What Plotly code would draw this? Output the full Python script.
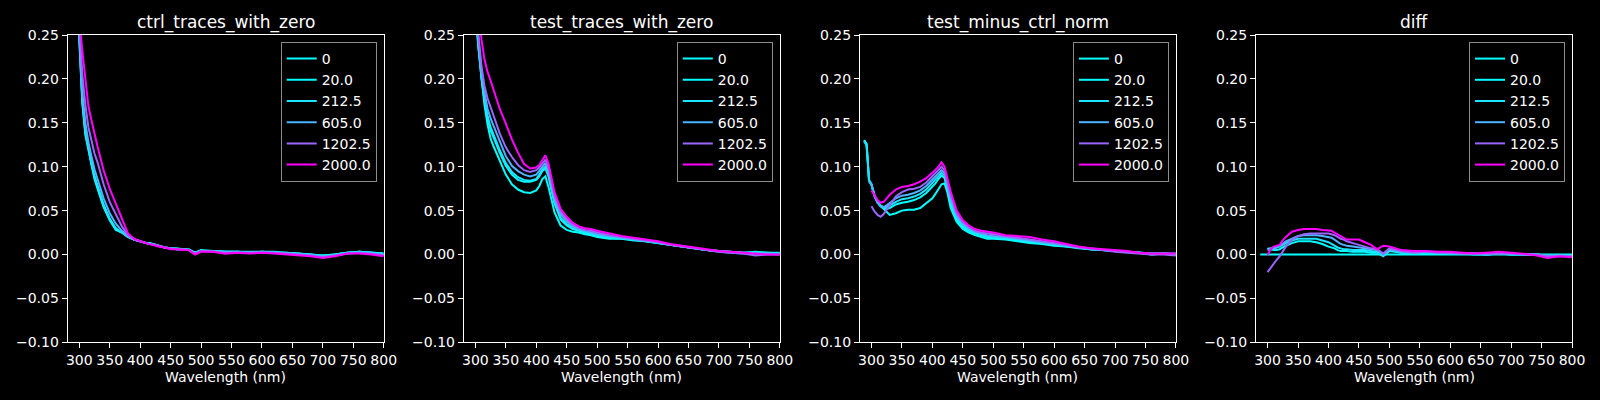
import plotly.graph_objects as go

# wavelength grid (nm) shared by every trace
wl = [288, 292, 294, 296, 300, 305, 310, 315, 320, 325, 330, 340, 350, 360, 370, 380, 390, 400,
      405, 410, 415, 420, 425, 430, 440, 450, 460, 470, 480, 490, 500, 520, 540, 560, 580, 600,
      620, 640, 660, 680, 700, 720, 740, 760, 780, 800]

labels = ['0', '20.0', '212.5', '605.0', '1202.5', '2000.0']
concs = [0, 20.0, 212.5, 605.0, 1202.5, 2000.0]

# ctrl_traces_with_zero
ctrl_0 = [0.42, 0.36, 0.33, 0.30, 0.245, 0.172, 0.136, 0.118, 0.101, 0.086, 0.075, 0.054, 0.039, 0.028, 0.025, 0.020, 0.017, 0.015,
          0.014, 0.013, 0.013, 0.012, 0.011, 0.010, 0.008, 0.007, 0.007, 0.006, 0.006, 0.002, 0.005, 0.004, 0.003, 0.003, 0.003, 0.003,
          0.003, 0.002, 0.001, 0.000, -0.001, 0.000, 0.002, 0.003, 0.002, 0.001]
ctrl_20 = [0.42, 0.36, 0.33, 0.30, 0.247, 0.175, 0.139, 0.120, 0.103, 0.088, 0.077, 0.055, 0.040, 0.029, 0.025, 0.020, 0.017, 0.015,
           0.014, 0.013, 0.013, 0.012, 0.011, 0.010, 0.008, 0.007, 0.006, 0.006, 0.005, 0.002, 0.004, 0.004, 0.003, 0.003, 0.002, 0.003,
           0.002, 0.002, 0.001, 0.000, -0.001, 0.000, 0.002, 0.003, 0.002, 0.001]
ctrl_212 = [0.43, 0.37, 0.34, 0.31, 0.25, 0.178, 0.142, 0.122, 0.105, 0.090, 0.079, 0.057, 0.041, 0.030, 0.025, 0.020, 0.017, 0.015,
            0.014, 0.013, 0.012, 0.012, 0.011, 0.010, 0.008, 0.007, 0.006, 0.006, 0.005, 0.002, 0.004, 0.004, 0.003, 0.003, 0.002, 0.003,
            0.002, 0.001, 0.001, 0.000, -0.002, 0.000, 0.002, 0.003, 0.002, 0.000]
ctrl_605 = [0.43, 0.37, 0.34, 0.31, 0.255, 0.185, 0.150, 0.128, 0.112, 0.097, 0.086, 0.064, 0.047, 0.035, 0.027, 0.021, 0.017, 0.015,
            0.014, 0.013, 0.012, 0.012, 0.011, 0.010, 0.008, 0.007, 0.006, 0.006, 0.005, 0.001, 0.004, 0.004, 0.002, 0.003, 0.002, 0.003,
            0.002, 0.001, 0.000, -0.001, -0.002, -0.001, 0.001, 0.002, 0.001, 0.000]
ctrl_1202 = [0.44, 0.38, 0.35, 0.32, 0.262, 0.205, 0.170, 0.145, 0.130, 0.115, 0.105, 0.080, 0.060, 0.045, 0.032, 0.022, 0.017, 0.015,
             0.014, 0.013, 0.012, 0.011, 0.011, 0.010, 0.008, 0.007, 0.006, 0.006, 0.005, 0.001, 0.004, 0.003, 0.002, 0.002, 0.002, 0.002,
             0.002, 0.001, 0.000, -0.001, -0.003, -0.001, 0.001, 0.002, 0.001, -0.001]
ctrl_2000 = [0.46, 0.40, 0.37, 0.34, 0.27, 0.232, 0.201, 0.169, 0.153, 0.137, 0.123, 0.096, 0.075, 0.058, 0.040, 0.024, 0.018, 0.015,
             0.014, 0.013, 0.012, 0.011, 0.010, 0.009, 0.008, 0.006, 0.006, 0.005, 0.005, 0.000, 0.003, 0.003, 0.001, 0.002, 0.001, 0.002,
             0.001, 0.000, -0.001, -0.002, -0.004, -0.002, 0.001, 0.001, 0.000, -0.002]

# test_traces_with_zero
test_0 = [0.44, 0.38, 0.35, 0.32, 0.275, 0.235, 0.198, 0.170, 0.148, 0.132, 0.123, 0.106, 0.091, 0.080, 0.074, 0.071, 0.070, 0.073,
          0.078, 0.086, 0.089, 0.077, 0.061, 0.048, 0.033, 0.028, 0.026, 0.025, 0.023, 0.022, 0.020, 0.018, 0.018, 0.016, 0.015, 0.013,
          0.011, 0.009, 0.007, 0.005, 0.004, 0.003, 0.002, 0.003, 0.002, 0.002]
test_20 = [0.45, 0.39, 0.36, 0.33, 0.283, 0.238, 0.200, 0.175, 0.155, 0.142, 0.133, 0.116, 0.101, 0.091, 0.085, 0.083, 0.083, 0.085,
           0.089, 0.095, 0.098, 0.089, 0.073, 0.058, 0.040, 0.033, 0.029, 0.027, 0.025, 0.023, 0.021, 0.019, 0.018, 0.017, 0.015, 0.013,
           0.011, 0.009, 0.007, 0.005, 0.004, 0.003, 0.002, 0.002, 0.002, 0.001]
test_212 = [0.45, 0.39, 0.36, 0.33, 0.285, 0.240, 0.203, 0.178, 0.158, 0.145, 0.136, 0.119, 0.104, 0.094, 0.088, 0.085, 0.084, 0.086,
            0.091, 0.097, 0.100, 0.091, 0.075, 0.060, 0.042, 0.035, 0.030, 0.028, 0.026, 0.024, 0.022, 0.020, 0.019, 0.017, 0.015, 0.013,
            0.011, 0.009, 0.007, 0.005, 0.004, 0.003, 0.002, 0.002, 0.001, 0.001]
test_605 = [0.46, 0.40, 0.37, 0.34, 0.29, 0.245, 0.208, 0.185, 0.166, 0.155, 0.146, 0.128, 0.112, 0.101, 0.095, 0.091, 0.089, 0.091,
            0.095, 0.100, 0.104, 0.095, 0.079, 0.063, 0.046, 0.038, 0.032, 0.029, 0.027, 0.025, 0.023, 0.021, 0.019, 0.017, 0.016, 0.014,
            0.011, 0.009, 0.007, 0.005, 0.003, 0.002, 0.001, 0.001, 0.001, 0.000]
test_1202 = [0.47, 0.41, 0.38, 0.35, 0.30, 0.250, 0.215, 0.192, 0.178, 0.168, 0.158, 0.138, 0.122, 0.111, 0.102, 0.096, 0.094, 0.096,
             0.099, 0.104, 0.108, 0.099, 0.083, 0.067, 0.049, 0.040, 0.034, 0.030, 0.028, 0.027, 0.025, 0.022, 0.020, 0.018, 0.016, 0.014,
             0.011, 0.009, 0.007, 0.005, 0.003, 0.002, 0.001, -0.001, 0.000, 0.000]
test_2000 = [0.50, 0.44, 0.41, 0.38, 0.33, 0.280, 0.245, 0.222, 0.208, 0.198, 0.188, 0.166, 0.149, 0.131, 0.116, 0.103, 0.098, 0.099,
             0.102, 0.108, 0.113, 0.104, 0.087, 0.071, 0.052, 0.043, 0.036, 0.032, 0.030, 0.029, 0.027, 0.024, 0.021, 0.019, 0.017, 0.015,
             0.012, 0.010, 0.008, 0.006, 0.004, 0.003, 0.002, 0.001, 0.000, 0.000]

# test_minus_ctrl_norm
norm_0 = [0.130, 0.125, 0.105, 0.084, 0.079, 0.068, 0.060, 0.055, 0.052, 0.048, 0.045, 0.047, 0.050, 0.051, 0.051, 0.053, 0.058, 0.064,
          0.069, 0.074, 0.080, 0.081, 0.070, 0.053, 0.037, 0.029, 0.025, 0.022, 0.020, 0.018, 0.018, 0.017, 0.015, 0.013, 0.012, 0.010,
          0.009, 0.007, 0.006, 0.005, 0.004, 0.003, 0.002, 0.000, 0.001, 0.000]
norm_20 = [0.130, 0.126, 0.106, 0.085, 0.080, 0.067, 0.059, 0.055, 0.053, 0.052, 0.053, 0.057, 0.059, 0.060, 0.062, 0.065, 0.070, 0.077,
           0.081, 0.086, 0.090, 0.087, 0.073, 0.058, 0.040, 0.031, 0.027, 0.024, 0.022, 0.020, 0.019, 0.018, 0.016, 0.014, 0.013, 0.011,
           0.009, 0.008, 0.006, 0.005, 0.004, 0.003, 0.002, 0.001, 0.001, 0.000]
norm_212 = [0.129, 0.124, 0.104, 0.084, 0.080, 0.067, 0.060, 0.056, 0.054, 0.054, 0.056, 0.060, 0.063, 0.064, 0.066, 0.069, 0.074, 0.081,
            0.085, 0.089, 0.093, 0.090, 0.076, 0.061, 0.042, 0.033, 0.028, 0.025, 0.023, 0.021, 0.020, 0.019, 0.017, 0.015, 0.013, 0.012,
            0.010, 0.008, 0.006, 0.005, 0.004, 0.003, 0.002, 0.001, 0.001, 0.001]
norm_605 = [None, None, None, 0.083, 0.080, 0.066, 0.059, 0.055, 0.054, 0.056, 0.059, 0.064, 0.067, 0.068, 0.070, 0.073, 0.078, 0.085,
            0.088, 0.092, 0.096, 0.093, 0.079, 0.064, 0.044, 0.035, 0.030, 0.026, 0.024, 0.022, 0.021, 0.020, 0.018, 0.016, 0.014, 0.012,
            0.010, 0.008, 0.006, 0.005, 0.004, 0.003, 0.002, 0.000, 0.001, 0.000]
norm_1202 = [None, None, None, None, 0.055, 0.049, 0.045, 0.043, 0.046, 0.051, 0.057, 0.066, 0.071, 0.074, 0.075, 0.077, 0.082, 0.089,
             0.092, 0.096, 0.100, 0.096, 0.082, 0.067, 0.047, 0.037, 0.031, 0.027, 0.025, 0.024, 0.023, 0.021, 0.019, 0.017, 0.015, 0.013,
             0.011, 0.008, 0.007, 0.005, 0.003, 0.002, 0.001, 0.000, 0.000, -0.001]
norm_2000 = [None, None, None, None, 0.073, 0.067, 0.062, 0.059, 0.060, 0.064, 0.068, 0.074, 0.077, 0.078, 0.080, 0.083, 0.087, 0.093,
             0.096, 0.100, 0.105, 0.100, 0.086, 0.072, 0.050, 0.039, 0.033, 0.029, 0.027, 0.026, 0.025, 0.022, 0.021, 0.020, 0.017, 0.015,
             0.012, 0.009, 0.007, 0.006, 0.005, 0.004, 0.002, 0.001, 0.001, 0.001]

# diff
diff_0 = [0.000, 0.000, 0.000, 0.000, 0.000, 0.000, 0.000, 0.000, 0.000, 0.000, 0.000, 0.000, 0.000, 0.000, 0.000, 0.000,
          0.000, 0.000, 0.000, 0.000, 0.000, 0.000, 0.000, 0.000, 0.000, 0.000, 0.000, 0.000, 0.000, 0.000, 0.000, 0.000, 0.000,
          0.000, 0.000, 0.000, 0.000, 0.000, 0.000, 0.000, 0.000, 0.000, 0.000, 0.000, 0.000, 0.000]
diff_20 = [None, None, None, None, 0.007, 0.006, 0.005, 0.005, 0.006, 0.008, 0.010, 0.013, 0.015, 0.015, 0.015, 0.014, 0.012, 0.009,
           0.008, 0.007, 0.005, 0.004, 0.004, 0.004, 0.003, 0.003, 0.003, 0.002, 0.002, -0.002, 0.004, 0.002, 0.001, 0.002, 0.002, 0.001,
           0.001, 0.000, 0.000, 0.001, 0.000, 0.000, 0.000, -0.001, -0.001, -0.001]
diff_212 = [None, None, None, None, 0.006, 0.007, 0.007, 0.008, 0.009, 0.011, 0.013, 0.016, 0.018, 0.018, 0.018, 0.018, 0.016, 0.014,
            0.012, 0.010, 0.008, 0.007, 0.006, 0.006, 0.005, 0.005, 0.005, 0.004, 0.003, -0.001, 0.005, 0.002, 0.002, 0.002, 0.002, 0.001,
            0.001, 0.001, 0.000, 0.001, 0.000, 0.000, 0.000, -0.001, -0.001, -0.001]
diff_605 = [None, None, None, None, 0.005, 0.006, 0.007, 0.008, 0.010, 0.012, 0.015, 0.018, 0.021, 0.022, 0.022, 0.022, 0.021, 0.020,
            0.019, 0.017, 0.014, 0.012, 0.011, 0.010, 0.009, 0.008, 0.007, 0.006, 0.005, 0.000, 0.006, 0.003, 0.002, 0.003, 0.002, 0.001,
            0.001, 0.001, 0.000, 0.001, 0.001, 0.000, 0.000, -0.001, -0.001, -0.002]
diff_1202 = [None, None, None, None, -0.020, -0.015, -0.011, -0.006, -0.002, 0.004, 0.009, 0.017, 0.021, 0.023, 0.024, 0.024, 0.024, 0.024,
             0.023, 0.022, 0.020, 0.018, 0.017, 0.015, 0.013, 0.011, 0.009, 0.007, 0.006, 0.001, 0.007, 0.004, 0.002, 0.003, 0.002, 0.002,
             0.001, 0.001, 0.001, 0.001, 0.001, 0.000, 0.000, -0.002, -0.002, -0.002]
diff_2000 = [None, None, None, None, -0.001, 0.006, 0.009, 0.010, 0.011, 0.016, 0.020, 0.026, 0.028, 0.029, 0.029, 0.029, 0.028, 0.027,
             0.027, 0.025, 0.023, 0.021, 0.019, 0.017, 0.017, 0.017, 0.014, 0.011, 0.006, 0.010, 0.009, 0.005, 0.004, 0.004, 0.003, 0.003,
             0.002, 0.001, 0.002, 0.003, 0.002, 0.001, -0.001, -0.004, -0.002, -0.003]

panels = [
    ('ctrl_traces_with_zero', [ctrl_0, ctrl_20, ctrl_212, ctrl_605, ctrl_1202, ctrl_2000]),
    ('test_traces_with_zero', [test_0, test_20, test_212, test_605, test_1202, test_2000]),
    ('test_minus_ctrl_norm', [norm_0, norm_20, norm_212, norm_605, norm_1202, norm_2000]),
    ('diff', [diff_0, diff_20, diff_212, diff_605, diff_1202, diff_2000]),
]


def cool(c):
    # matplotlib 'cool' colormap, normalised to the max concentration
    f = c / max(concs)
    return 'rgb(%d,%d,255)' % (round(255 * f), round(255 * (1 - f)))


W, H = 1600, 400
lefts = [67.7, 463.8, 859.9, 1256.0]
pw = 316.0
top_px, bot_px = 35.0, 342.3
font = 'DejaVu Sans'

fig = go.Figure()
layout = dict(
    width=W, height=H,
    margin=dict(l=0, r=0, t=0, b=0, autoexpand=False),
    paper_bgcolor='black', plot_bgcolor='black',
    font=dict(family=font, size=14, color='white'),
    annotations=[],
)

for i, (title, series) in enumerate(panels):
    n = '' if i == 0 else str(i + 1)
    leg = 'legend' + n
    for lab, c, ys in zip(labels, concs, series):
        fig.add_trace(go.Scatter(
            x=wl, y=ys, mode='lines', name=lab,
            line=dict(color=cool(c), width=2),
            xaxis='x' + n, yaxis='y' + n, legend=leg,
        ))
    x0 = lefts[i] / W
    x1 = (lefts[i] + pw) / W
    layout['xaxis' + n] = dict(
        domain=[x0, x1], anchor='y' + n, range=[281, 800],
        tickvals=list(range(300, 801, 50)),
        showline=True, mirror=True, linecolor='white', linewidth=1,
        ticks='outside', ticklen=5, tickcolor='white',
        showgrid=False, zeroline=False, tickfont=dict(size=14), automargin=False,
    )
    layout['yaxis' + n] = dict(
        domain=[1 - bot_px / H, 1 - top_px / H], anchor='x' + n, range=[-0.10, 0.25],
        tickvals=[-0.10, -0.05, 0.0, 0.05, 0.10, 0.15, 0.20, 0.25], tickformat='.2f',
        showline=True, mirror=True, linecolor='white', linewidth=1,
        ticks='outside', ticklen=5, tickcolor='white',
        showgrid=False, zeroline=False, tickfont=dict(size=14), automargin=False,
    )
    layout[leg] = dict(
        x=(lefts[i] + pw - 7) / W, y=1 - 42 / H, xanchor='right', yanchor='top',
        bgcolor='rgba(0,0,0,0.8)', bordercolor='#8c8c8c', borderwidth=1,
        font=dict(family=font, size=14, color='white'),
    )
    layout['annotations'].append(dict(
        text=title, x=(x0 + x1) / 2, y=1 - 22 / H, xref='paper', yref='paper',
        xanchor='center', yanchor='middle', showarrow=False,
        font=dict(family=font, size=17, color='white'),
    ))
    layout['annotations'].append(dict(
        text='Wavelength (nm)', x=(x0 + x1) / 2, y=1 - 377 / H, xref='paper', yref='paper',
        xanchor='center', yanchor='middle', showarrow=False,
        font=dict(family=font, size=14, color='white'),
    ))

fig.update_layout(**layout)
page_fix = ("document.documentElement.style.margin='0';document.documentElement.style.overflow='hidden';"
            "document.body.style.margin='0';document.body.style.overflow='hidden';"
            "document.body.style.background='black';")
fig.write_html('out.html', config={'displayModeBar': False}, post_script=page_fix)
